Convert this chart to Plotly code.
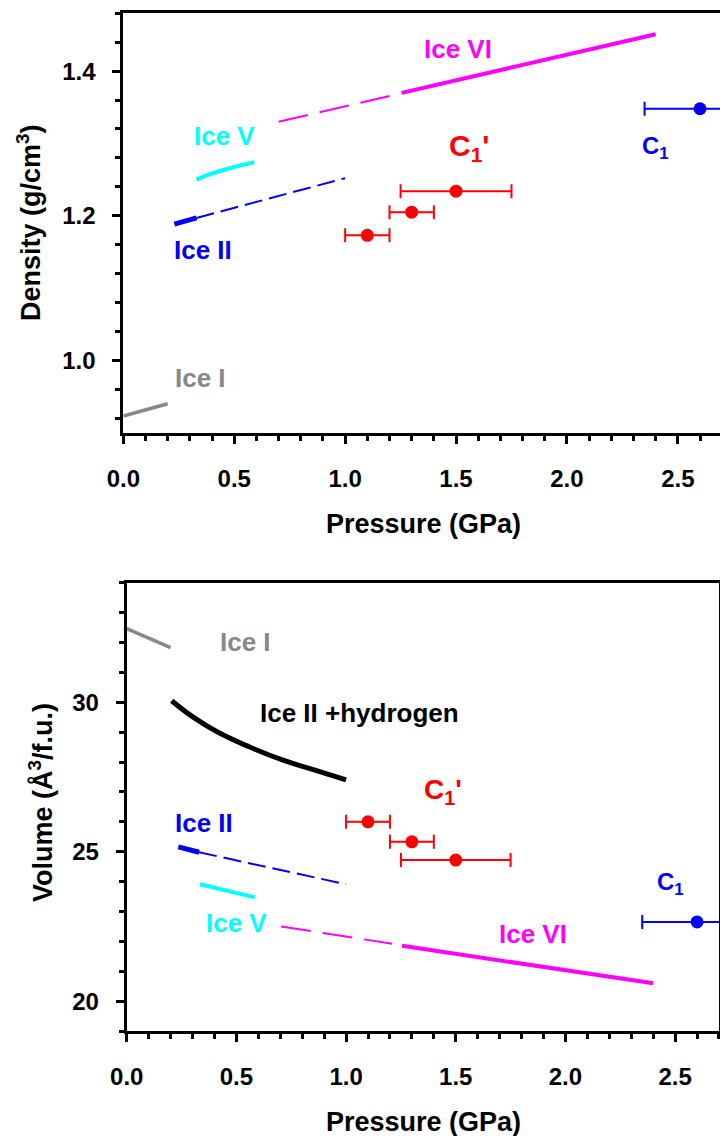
import plotly.graph_objects as go

# ---------------- Density panel (g/cm^3 vs GPa) ----------------
ice1_p = [0.0, 0.2]
ice1_rho = [0.923, 0.940]

ice2_p_solid = [0.23, 0.33]
ice2_rho_solid = [1.1885, 1.197]
ice2_p_dash = [0.33, 1.0]
ice2_rho_dash = [1.197, 1.252]

ice5_p = [0.33, 0.37, 0.41, 0.50, 0.59]
ice5_rho = [1.250, 1.2552, 1.2595, 1.2675, 1.274]

ice6_p_dash = [0.70, 1.205]
ice6_rho_dash = [1.330, 1.366]
ice6_p_solid = [1.255, 2.40]
ice6_rho_solid = [1.370, 1.451]

c1p_p = [1.1, 1.3, 1.5]
c1p_perr = [0.1, 0.1, 0.25]
c1p_rho = [1.173, 1.205, 1.234]

c1_p = [2.6]
c1_perr = [0.25]
c1_rho = [1.348]

# ---------------- Volume panel (A^3/f.u. vs GPa) ----------------
ice1_vol = [32.46, 31.83]

h2_p = [0.205, 0.303, 0.41, 0.561, 0.713, 0.865, 1.0]
h2_vol = [30.05, 29.50, 29.02, 28.50, 28.06, 27.71, 27.40]

ice2_pv_solid = [0.235, 0.33]
ice2_vol_solid = [25.16, 24.98]
ice2_pv_dash = [0.33, 1.0]
ice2_vol_dash = [24.98, 23.91]

ice5_pv = [0.334, 0.584]
ice5_vol = [23.91, 23.47]

ice6_pv_dash = [0.704, 1.21]
ice6_vol_dash = [22.50, 21.92]
ice6_pv_solid = [1.255, 2.40]
ice6_vol_solid = [21.85, 20.60]

c1p_vol = [26.0, 25.33, 24.72]
c1_vol = [22.65]

GRAY = "#888888"
CYAN = "#00FFFF"
BLUE = "#0000FF"
MAGENTA = "#FF00FF"
RED = "#FF0000"
BLACK = "#000000"

fig = go.Figure()


def line(x, y, color, width, dash="solid", xa="x", ya="y", shape="linear"):
    fig.add_trace(go.Scatter(
        x=x, y=y, mode="lines", xaxis=xa, yaxis=ya,
        line=dict(color=color, width=width, dash=dash, shape=shape,
                  smoothing=1.3),
        showlegend=False, hoverinfo="skip"))


def points(x, y, err, color, xa="x", ya="y"):
    fig.add_trace(go.Scatter(
        x=x, y=y, mode="markers", xaxis=xa, yaxis=ya,
        marker=dict(color=color, size=13, symbol="circle"),
        error_x=dict(type="data", array=err, symmetric=True,
                     color=color, thickness=2, width=7),
        showlegend=False, hoverinfo="skip"))


# density panel traces
line(ice1_p, ice1_rho, GRAY, 3.5)
line(ice2_p_solid, ice2_rho_solid, BLUE, 5)
line(ice2_p_dash, ice2_rho_dash, BLUE, 2, dash="18px,7px")
line(ice5_p, ice5_rho, CYAN, 4, shape="spline")
line(ice6_p_dash, ice6_rho_dash, MAGENTA, 2, dash="30px,12px")
line(ice6_p_solid, ice6_rho_solid, MAGENTA, 4)
points(c1p_p, c1p_rho, c1p_perr, RED)
points(c1_p, c1_rho, c1_perr, BLUE)

# volume panel traces
line(ice1_p, ice1_vol, GRAY, 3.5, xa="x2", ya="y2")
line(h2_p, h2_vol, BLACK, 5, xa="x2", ya="y2", shape="spline")
line(ice2_pv_solid, ice2_vol_solid, BLUE, 5, xa="x2", ya="y2")
line(ice2_pv_dash, ice2_vol_dash, BLUE, 2, dash="18px,7px", xa="x2", ya="y2")
line(ice5_pv, ice5_vol, CYAN, 4, xa="x2", ya="y2")
line(ice6_pv_dash, ice6_vol_dash, MAGENTA, 2, dash="30px,12px", xa="x2", ya="y2")
line(ice6_pv_solid, ice6_vol_solid, MAGENTA, 4, xa="x2", ya="y2")
points(c1p_p, c1p_vol, c1p_perr, RED, xa="x2", ya="y2")
points(c1_p, c1_vol, c1_perr, BLUE, xa="x2", ya="y2")

FONT = "Liberation Sans, Arial, sans-serif"

axis_common = dict(
    showline=True, linecolor="black", linewidth=3,
    ticks="outside", ticklen=8, tickwidth=2.5, tickcolor="black",
    showgrid=False, zeroline=False, fixedrange=True, automargin=False,
    tickfont=dict(family=FONT, size=24, color="black", weight="bold"),
)

xaxis_common = dict(axis_common, tick0=0, dtick=0.5, tickformat=".1f",
                    ticklabelstandoff=14,
                    minor=dict(dtick=0.1, tick0=0, ticks="outside", ticklen=5,
                               tickwidth=2.5, tickcolor="black"))

fig.update_layout(
    width=720, height=1136,
    margin=dict(l=0, r=0, t=0, b=0, pad=0, autoexpand=False),
    paper_bgcolor="white", plot_bgcolor="white",
    font=dict(family=FONT, size=26, color="black", weight="bold"),
    hovermode=False,
    xaxis=dict(xaxis_common, domain=[0.1713, 1.0], range=[0, 2.69],
               anchor="y", mirror=True),
    yaxis=dict(axis_common, domain=[0.6191, 0.9883], range=[0.90, 1.48],
               anchor="x", tick0=1.0, dtick=0.2, tickformat=".1f",
               ticklabelstandoff=12, mirror=False,
               minor=dict(dtick=0.04, tick0=1.0, ticks="outside", ticklen=5,
                          tickwidth=2.5, tickcolor="black")),
    xaxis2=dict(xaxis_common, domain=[0.176, 0.9986], range=[0, 2.7],
                anchor="y2", mirror=True),
    yaxis2=dict(axis_common, domain=[0.0924, 0.4871], range=[19, 34],
                anchor="x2", tick0=20, dtick=5,
                ticklabelstandoff=12, mirror=True,
                minor=dict(dtick=1, tick0=20, ticks="outside", ticklen=5,
                           tickwidth=2.5, tickcolor="black")),
)


def label(text, x, y, color, size=26, xa="x", ya="y", xanchor="center"):
    fig.add_annotation(text=text, x=x, y=y, xref=xa, yref=ya,
                       showarrow=False, xanchor=xanchor, yanchor="middle",
                       font=dict(family=FONT, size=size, color=color,
                                 weight="bold"))


# density panel labels
label("Ice I", 0.35, 0.975, GRAY)
label("Ice V", 0.455, 1.31, CYAN)
label("Ice II", 0.358, 1.152, BLUE)
label("Ice VI", 1.51, 1.43, MAGENTA)
label("C<sub>1</sub>'", 1.56, 1.294, RED, size=30)
label("C<sub>1</sub>", 2.40, 1.294, BLUE, size=24)

# volume panel labels
label("Ice I", 0.54, 32.03, GRAY, xa="x2", ya="y2")
label("Ice II +hydrogen", 0.60, 29.63, BLACK, xa="x2", ya="y2", xanchor="left")
label("Ice II", 0.35, 25.95, BLUE, xa="x2", ya="y2")
label("Ice V", 0.50, 22.6, CYAN, xa="x2", ya="y2")
label("Ice VI", 1.85, 22.23, MAGENTA, xa="x2", ya="y2")
label("C<sub>1</sub>'", 1.442, 27.0, RED, size=28, xa="x2", ya="y2")
label("C<sub>1</sub>", 2.48, 23.95, BLUE, size=24, xa="x2", ya="y2")

# axis titles
def title(text, x, y, angle=0):
    fig.add_annotation(text=text, x=x, y=y, xref="paper", yref="paper",
                       showarrow=False, xanchor="center", yanchor="middle",
                       textangle=angle,
                       font=dict(family=FONT, size=27, color="black",
                                 weight="bold"))


title("Pressure (GPa)", 423 / 720, 1 - 524 / 1136)
title("Pressure (GPa)", 423 / 720, 1 - 1122 / 1136)
title("Density (g/cm<sup>3</sup>)", 29 / 720, 1 - 223 / 1136, angle=-90)
title("Volume (Å<sup>3</sup>/f.u.)", 41 / 720, 1 - 803 / 1136, angle=-90)

fig.write_html("out.html")
